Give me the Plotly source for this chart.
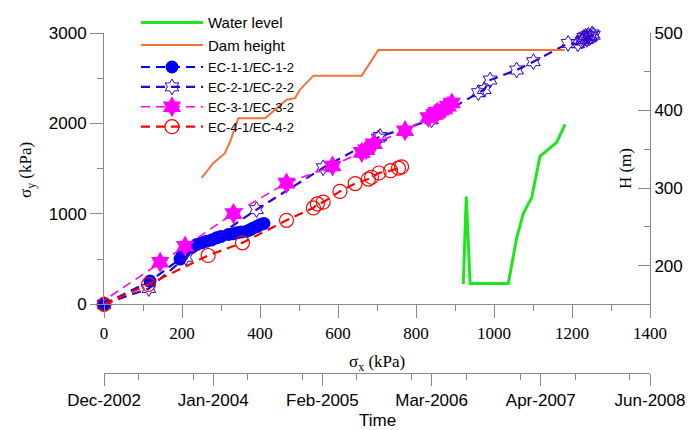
import plotly.graph_objects as go

# ---- Stress paths, sigma_x / sigma_y (kPa) ----
ec1_sx = [0, 118, 195, 200, 208, 225, 238, 250, 263, 276, 289, 300, 319, 330, 340, 352, 366, 375, 383, 392, 400, 410]
ec1_sy = [0, 257, 500, 540, 588, 630, 662, 680, 698, 712, 735, 750, 772, 780, 790, 800, 808, 825, 845, 860, 880, 895]

ec2_sx = [0, 115, 210, 391, 562, 703, 708, 840, 960, 975, 990, 1058, 1101, 1190, 1215, 1225,
          1230, 1238, 1242, 1248, 1252, 1245, 1235, 1255, 1228]
ec2_sy = [0, 175, 520, 1047, 1510, 1838, 1856, 2040, 2340, 2375, 2480, 2591, 2683, 2885, 2880, 2910,
          2950, 2930, 2975, 2960, 2990, 2945, 2965, 2975, 2925]

ec3_sx = [-15, 144, 208, 332, 468, 586, 661, 672, 692, 772, 832, 848, 855, 872, 882, 892]
ec3_sy = [0, 465, 643, 1003, 1340, 1530, 1680, 1709, 1775, 1920, 2065, 2100, 2125, 2160, 2190, 2225]

ec4_sx = [0, 114, 267, 355, 468, 537, 547, 562, 605, 644, 678, 686, 705, 735, 755, 763]
ec4_sy = [0, 220, 540, 680, 929, 1066, 1110, 1130, 1249, 1335, 1385, 1405, 1452, 1478, 1505, 1520]

# ---- Construction history, H (m) ----
dam_dates = ['2003-12-03', '2004-01-14', '2004-02-26', '2004-03-16', '2004-04-15', '2004-07-22',
             '2004-10-09', '2004-11-09', '2004-11-27', '2005-01-15', '2005-07-11', '2005-09-10',
             '2007-07-25']
dam_h = [313, 332, 345, 360, 390, 390, 414, 416, 427, 445, 445, 478, 478]

wl_dates = ['2006-07-18', '2006-07-29', '2006-08-12', '2006-12-30', '2007-01-30', '2007-02-23',
            '2007-03-26', '2007-04-25', '2007-06-25', '2007-07-26']
wl_h = [176, 289, 177, 177, 236, 267, 288, 341, 359, 382]

# ---- Axis settings ----
time_start, time_end = '2002-12-10', '2008-06-01'
DAY_MS = 86400000

AX = '#8a8a8a'
SANS = 'Liberation Sans, Arial, sans-serif'
SERIF = 'Liberation Serif, Times New Roman, serif'
DASH = '9px,6px'

fig = go.Figure()

fig.add_trace(go.Scatter(
    x=wl_dates, y=wl_h, xaxis='x2', yaxis='y2', mode='lines', name='Water level',
    legend='legend', line=dict(color='#1EE61E', width=3)))
fig.add_trace(go.Scatter(
    x=dam_dates, y=dam_h, xaxis='x2', yaxis='y2', mode='lines', name='Dam height',
    legend='legend', line=dict(color='#F5703C', width=2)))

fig.add_trace(go.Scatter(
    x=ec1_sx, y=ec1_sy, mode='lines+markers', name='EC-1-1/EC-1-2', cliponaxis=False,
    legend='legend2',
    line=dict(color='#0000FF', width=2.2, dash=DASH),
    marker=dict(symbol='circle', size=13, color='#0000FF')))
fig.add_trace(go.Scatter(
    x=ec2_sx, y=ec2_sy, mode='lines+markers', name='EC-2-1/EC-2-2', cliponaxis=False,
    legend='legend2',
    line=dict(color='#3300CC', width=2.2, dash=DASH),
    marker=dict(symbol='hexagram-open', size=12, color='#3300CC', line=dict(width=1))))
fig.add_trace(go.Scatter(
    x=ec3_sx, y=ec3_sy, mode='lines+markers', name='EC-3-1/EC-3-2', cliponaxis=False,
    legend='legend2',
    line=dict(color='#FF00FF', width=1.6, dash=DASH),
    marker=dict(symbol='hexagram', size=16, color='#FF00FF')))
fig.add_trace(go.Scatter(
    x=ec4_sx, y=ec4_sy, mode='lines+markers', name='EC-4-1/EC-4-2', cliponaxis=False,
    legend='legend2',
    line=dict(color='#FF0000', width=2.2, dash=DASH),
    marker=dict(symbol='circle-open', size=14, color='#FF0000', line=dict(width=1.2))))

legend_common = dict(xanchor='left', yanchor='top', bgcolor='rgba(0,0,0,0)', borderwidth=0,
                     itemwidth=62, tracegroupgap=0)

fig.update_layout(
    width=688, height=430,
    margin=dict(l=104, r=38, t=33, b=57, autoexpand=False),
    paper_bgcolor='white', plot_bgcolor='white',
    showlegend=True,
    legend=dict(x=0.0586, y=1.079, font=dict(family=SANS, size=15, color='black'), **legend_common),
    legend2=dict(x=0.0586, y=0.944, font=dict(family=SANS, size=13, color='black'), **legend_common),
    xaxis=dict(domain=[0, 1], range=[0, 1400], anchor='y',
               tickmode='linear', tick0=0, dtick=200,
               ticks='outside', ticklen=13, tickcolor=AX, tickwidth=1,
               showline=True, linecolor=AX, linewidth=1,
               showgrid=False, zeroline=False,
               tickfont=dict(family=SERIF, size=17, color='black'),
               minor=dict(dtick=100, ticks='outside', ticklen=6, tickcolor=AX, showgrid=False)),
    yaxis=dict(domain=[0.202, 1], range=[0, 3000], anchor='x',
               tickmode='linear', tick0=0, dtick=1000,
               ticks='outside', ticklen=13, tickcolor=AX, tickwidth=1,
               showline=True, linecolor=AX, linewidth=1,
               showgrid=False, zeroline=False,
               tickfont=dict(family=SANS, size=17, color='black'),
               minor=dict(dtick=500, ticks='outside', ticklen=6, tickcolor=AX, showgrid=False)),
    xaxis2=dict(type='date', overlaying='x', anchor='free', position=0, side='bottom',
                range=[time_start, time_end],
                tickmode='linear', tick0=time_start, dtick=400 * DAY_MS, tickformat='%b-%Y',
                ticks='outside', ticklen=12, tickcolor=AX, tickwidth=1,
                showline=True, linecolor=AX, linewidth=1,
                showgrid=False, zeroline=False,
                tickfont=dict(family=SANS, size=17, color='black'),
                minor=dict(dtick=200 * DAY_MS, ticks='outside', ticklen=6, tickcolor=AX, showgrid=False)),
    yaxis2=dict(overlaying='y', side='right', anchor='x', range=[150, 500],
                tickmode='linear', tick0=200, dtick=100,
                ticks='inside', ticklen=12, tickcolor=AX, tickwidth=1,
                showline=True, linecolor=AX, linewidth=1,
                showgrid=False, zeroline=False,
                tickfont=dict(family=SANS, size=17, color='black'),
                minor=dict(dtick=50, ticks='inside', ticklen=6, tickcolor=AX, showgrid=False)),
    annotations=[
        dict(text='σ<sub>x</sub> (kPa)', xref='paper', yref='paper', x=0.5, y=0.03,
             showarrow=False, xanchor='center', yanchor='middle',
             font=dict(family=SERIF, size=17, color='black')),
        dict(text='Time', xref='paper', yref='paper', x=0.5, y=-0.141,
             showarrow=False, xanchor='center', yanchor='middle',
             font=dict(family=SANS, size=17, color='black')),
        dict(text='σ<sub>y</sub> (kPa)', xref='paper', yref='paper', x=-0.141, y=0.597,
             showarrow=False, textangle=-90, xanchor='center', yanchor='middle',
             font=dict(family=SERIF, size=17, color='black')),
        dict(text='H (m)', xref='paper', yref='paper', x=0.955, y=0.601,
             showarrow=False, textangle=-90, xanchor='center', yanchor='middle',
             font=dict(family=SERIF, size=17, color='black')),
    ],
)

fig.write_html('out.html')
